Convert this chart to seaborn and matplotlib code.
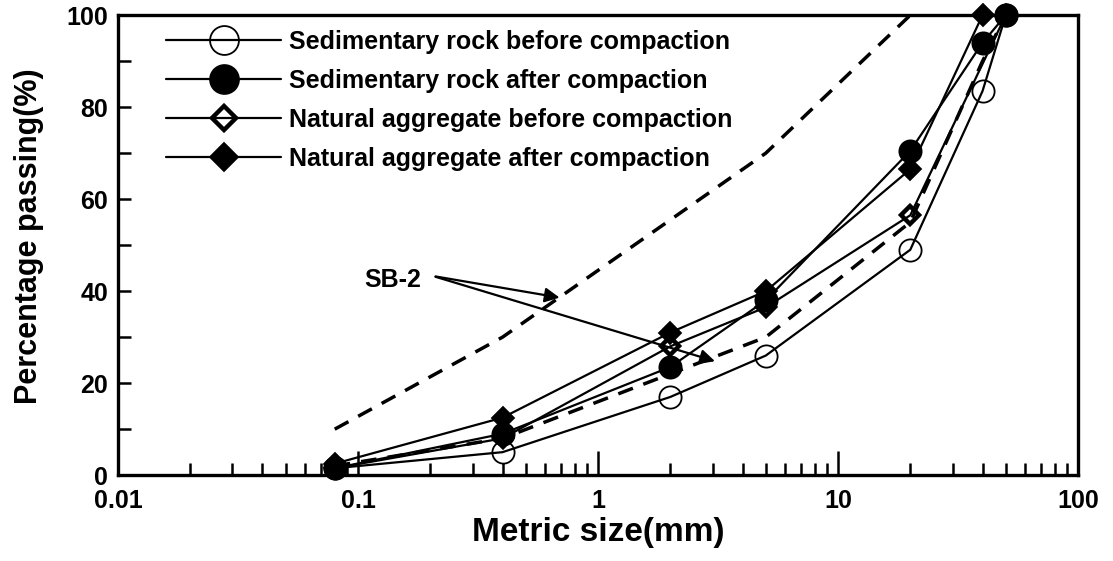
import numpy as np
import pandas as pd
import seaborn as sns
import matplotlib
matplotlib.use('Agg')
import matplotlib.pyplot as plt

# данные
sed_before_x = [0.08, 0.4, 2, 5, 20, 40, 50]
sed_before_y = [1.5, 5, 17, 26, 49, 83.5, 100]

sed_after_x = [0.08, 0.4, 2, 5, 20, 40, 50]
sed_after_y = [1.5, 9, 23.5, 38, 70.5, 94, 100]

nat_before_x = [0.08, 0.4, 2, 5, 20, 50]
nat_before_y = [1.5, 8, 28, 36.5, 56.5, 100]

nat_after_x = [0.08, 0.4, 2, 5, 20, 40]
nat_after_y = [2.5, 12.5, 31, 40, 66.5, 100]

sb2_upper_x = [0.08, 0.4, 5, 20]
sb2_upper_y = [10, 30, 70, 100]

sb2_lower_x = [0.08, 0.4, 5, 20, 40, 50]
sb2_lower_y = [2, 8, 30, 55, 90, 100]

x_ticks = [0.01, 0.1, 1, 10, 100]
x_tick_labels = ['0.01', '0.1', '1', '10', '100']
y_ticks = [0, 20, 40, 60, 80, 100]

sns.set_style('ticks')
plt.rcParams['font.family'] = ['Liberation Sans', 'DejaVu Sans']
plt.rcParams['font.weight'] = 'bold'
plt.rcParams['text.color'] = 'black'
plt.rcParams['axes.labelcolor'] = 'black'
plt.rcParams['xtick.color'] = 'black'
plt.rcParams['ytick.color'] = 'black'

fig, ax = plt.subplots(figsize=(11.13, 5.61), dpi=100)
fig.subplots_adjust(left=0.106, right=0.9686, bottom=0.153, top=0.973)

series = [
    ('Sedimentary rock before compaction', sed_before_x, sed_before_y,
     dict(marker='o', markersize=16, markerfacecolor='none', markeredgewidth=1.3)),
    ('Sedimentary rock after compaction', sed_after_x, sed_after_y,
     dict(marker='o', markersize=16, markerfacecolor='black', markeredgewidth=1.3)),
    ('Natural aggregate before compaction', nat_before_x, nat_before_y,
     dict(marker='D', markersize=9.5, markerfacecolor='none', markeredgewidth=3.2)),
    ('Natural aggregate after compaction', nat_after_x, nat_after_y,
     dict(marker='D', markersize=11, markerfacecolor='black', markeredgewidth=1.3)),
]

for name, xs, ys, kw in series:
    df = pd.DataFrame({'size': xs, 'passing': ys})
    sns.lineplot(data=df, x='size', y='passing', ax=ax, color='black', linewidth=1.6,
                 markeredgecolor='black', label=name, clip_on=False, sort=False, **kw)

for xs, ys in [(sb2_upper_x, sb2_upper_y), (sb2_lower_x, sb2_lower_y)]:
    df = pd.DataFrame({'size': xs, 'passing': ys})
    sns.lineplot(data=df, x='size', y='passing', ax=ax, color='black', linewidth=2.5,
                 dashes=False, linestyle=(0, (4.5, 3.2)), legend=False, sort=False)

ax.set_xscale('log')
ax.set_xlim(0.01, 100)
ax.set_ylim(0, 100)
ax.set_xticks(x_ticks)
ax.set_xticklabels(x_tick_labels)
ax.set_yticks(y_ticks)
ax.set_yticks([10, 30, 50, 70, 90], minor=True)

ax.tick_params(axis='x', which='major', direction='in', length=17, width=1.8,
               labelsize=18, pad=10)
ax.tick_params(axis='x', which='minor', direction='in', length=9, width=1.8)
ax.tick_params(axis='y', which='both', direction='in', length=9, width=1.8,
               labelsize=18, pad=7)
for lab in ax.get_xticklabels() + ax.get_yticklabels():
    lab.set_fontweight('bold')

for sp in ax.spines.values():
    sp.set_linewidth(2.4)
    sp.set_color('black')

ax.set_xlabel('Metric size(mm)', fontsize=24, fontweight='bold', labelpad=3)
ax.set_ylabel('Percentage passing(%)', fontsize=22, fontweight='bold')
ax.yaxis.set_label_coords(-0.077, 0.52)

# подпись SB-2 со стрелками
ax.text(0.14, 42.4, 'SB-2', fontsize=18, fontweight='bold', ha='center', va='center')
arrow_kw = dict(arrowstyle='-|>', color='black', lw=1.6, mutation_scale=22)
ax.annotate('', xy=(0.71, 38.5), xytext=(0.205, 43.3), arrowprops=arrow_kw)
ax.annotate('', xy=(3.15, 24.6), xytext=(0.205, 43.3), arrowprops=arrow_kw)

leg = ax.legend(loc='upper left', bbox_to_anchor=(0.04, 0.99), frameon=False,
                fontsize=18, handlelength=4.6, handletextpad=0.3, labelspacing=0.6,
                markerscale=1.3, borderaxespad=0)
for t in leg.get_texts():
    t.set_fontweight('bold')
    t.set_color('black')

plt.savefig('out.png', dpi=100)
